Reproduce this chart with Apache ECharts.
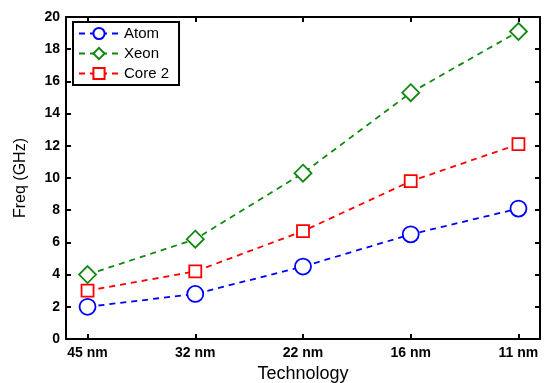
<!DOCTYPE html>
<html lang="en">
<head>
<meta charset="UTF-8">
<script src="https://cdn.jsdelivr.net/npm/echarts@6/dist/echarts.min.js"></script>
<title>Freq vs Technology</title>
</head>
<body style="margin:0">
<div id="main" style="width:549px;height:383px;"></div>
<script>
var categories = ['45 nm', '32 nm', '22 nm', '16 nm', '11 nm'];
var atom = [2.0, 2.8, 4.5, 6.5, 8.1];
var xeon = [4.0, 6.2, 10.3, 15.3, 19.1];
var core2 = [3.0, 4.2, 6.7, 9.8, 12.1];

var tickPos = categories.map(function (c, i) { return i; });
var font = 'Liberation Sans, Arial, sans-serif';

function pairs(vals) {
    return vals.map(function (v, i) { return [i, v]; });
}

function mkSeries(name, vals, color, symbol, size) {
    return {
        name: name,
        type: 'line',
        data: pairs(vals),
        symbol: symbol,
        symbolSize: size,
        lineStyle: { color: color, type: [6, 5], width: 1.8 },
        itemStyle: { color: '#fff', borderColor: color, borderWidth: 1.8 },
        emphasis: { disabled: true }
    };
}

var frameLine = { onZero: false, lineStyle: { color: '#000', width: 2 } };
var tickStyle = { color: '#000', width: 2 };

var chart = echarts.init(document.getElementById('main'));
chart.setOption({
    animation: false,
    grid: { left: 66, right: 9, top: 17, bottom: 44, outerBoundsMode: 'none', containLabel: false },
    legend: {
        orient: 'vertical',
        left: 73,
        top: 22,
        itemWidth: 40,
        itemHeight: 14,
        itemGap: 5,
        padding: [4, 10, 4, 5],
        borderColor: '#000',
        borderWidth: 2,
        backgroundColor: '#fff',
        textStyle: { fontFamily: font, fontSize: 15, color: '#000' },
        data: ['Atom', 'Xeon', 'Core 2']
    },
    xAxis: [{
        type: 'value',
        min: -0.2,
        max: 4.2,
        name: 'Technology',
        nameLocation: 'middle',
        nameGap: 20,
        nameTextStyle: { fontFamily: font, fontSize: 18, color: '#000' },
        splitLine: { show: false },
        axisLine: frameLine,
        axisTick: { inside: true, length: 5, customValues: tickPos, lineStyle: tickStyle },
        axisLabel: {
            customValues: tickPos,
            formatter: function (v) { return categories[Math.round(v)]; },
            fontFamily: font, fontSize: 14, fontWeight: 'bold', color: '#000', margin: 7
        }
    }, {
        type: 'value',
        position: 'top',
        min: -0.2,
        max: 4.2,
        splitLine: { show: false },
        axisLine: frameLine,
        axisTick: { inside: true, length: 5, customValues: tickPos, lineStyle: tickStyle },
        axisLabel: { show: false }
    }],
    yAxis: [{
        type: 'value',
        min: 0,
        max: 20,
        interval: 2,
        name: 'Freq (GHz)',
        nameLocation: 'middle',
        nameGap: 37,
        nameTextStyle: { fontFamily: font, fontSize: 16, color: '#000' },
        splitLine: { show: false },
        axisLine: { show: true, onZero: false, lineStyle: { color: '#000', width: 2 } },
        axisTick: { show: true, inside: true, length: 5, lineStyle: tickStyle },
        axisLabel: { fontFamily: font, fontSize: 14, fontWeight: 'bold', color: '#000', margin: 6 }
    }, {
        type: 'value',
        position: 'right',
        min: 0,
        max: 20,
        interval: 2,
        splitLine: { show: false },
        axisLine: { show: true, onZero: false, lineStyle: { color: '#000', width: 2 } },
        axisTick: { show: true, inside: true, length: 5, lineStyle: tickStyle },
        axisLabel: { show: false }
    }],
    series: [
        mkSeries('Atom', atom, '#0000ff', 'circle', 16),
        mkSeries('Xeon', xeon, '#118811', 'path://M0,-1L1,0L0,1L-1,0Z', 17),
        mkSeries('Core 2', core2, '#ff0000', 'path://M-1,-1L1,-1L1,1L-1,1Z', 12)
    ]
});
</script>
</body>
</html>
